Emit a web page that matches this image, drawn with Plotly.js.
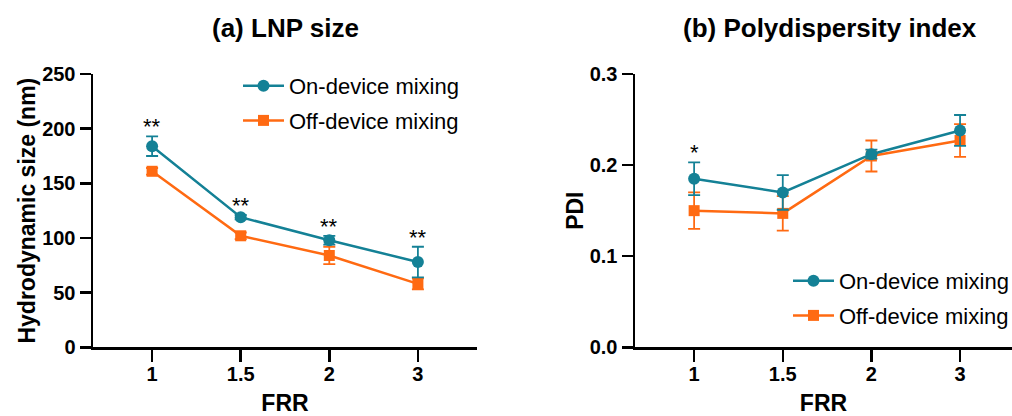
<!DOCTYPE html>
<html>
<head>
<meta charset="utf-8">
<script src="https://cdn.plot.ly/plotly-3.0.1.min.js"></script>
<style>html,body{margin:0;padding:0;background:#fff;}#chart{width:1012px;height:416px;}</style>
</head>
<body>
<div id="chart"></div>
<script>
// ---- data ----
const frr = ['1', '1.5', '2', '3'];
const sizeOn = [184, 119, 98, 78];
const sizeOnErr = [9, 2, 4, 14];
const sizeOff = [161, 102, 84, 58];
const sizeOffErr = [3, 3, 8, 5];
const pdiOn = [0.185, 0.170, 0.212, 0.238];
const pdiOnErr = [0.018, 0.019, 0.005, 0.017];
const pdiOff = [0.150, 0.147, 0.210, 0.227];
const pdiOffErr = [0.020, 0.019, 0.017, 0.018];
const sizeStars = ['**', '**', '**', '**'];
const pdiStars = ['*', '', '', ''];
const seriesNames = ['On-device mixing', 'Off-device mixing'];
const panelTitles = ['(a) LNP size', '(b) Polydispersity index'];
const yTitles = ['Hydrodynamic size (nm)', 'PDI'];
const xTitle = 'FRR';

// ---- styles ----
const TEAL = '#148196';
const ORANGE = '#ff6a12';
const FONT = '"Liberation Sans", Arial, sans-serif';

function trace(y, err, name, color, symbol, size, xa, ya, leg, rank) {
  return {
    type: 'scatter', mode: 'lines+markers', x: frr, y: y, name: name,
    xaxis: xa, yaxis: ya, legend: leg, legendrank: rank, legendgroup: name + leg,
    line: {color: color, width: 2.5},
    marker: {color: color, symbol: symbol, size: size},
    error_y: {type: 'data', array: err, visible: true, color: color, thickness: 1.8, width: 6},
    cliponaxis: false
  };
}

const data = [
  trace(sizeOff, sizeOffErr, seriesNames[1], ORANGE, 'square', 11, 'x', 'y', 'legend', 2),
  trace(sizeOn, sizeOnErr, seriesNames[0], TEAL, 'circle', 12, 'x', 'y', 'legend', 1),
  trace(pdiOff, pdiOffErr, seriesNames[1], ORANGE, 'square', 11, 'x2', 'y2', 'legend2', 2),
  trace(pdiOn, pdiOnErr, seriesNames[0], TEAL, 'circle', 12, 'x2', 'y2', 'legend2', 1)
];

const starFont = {family: FONT, size: 22, color: '#000'};
const annotations = [];
frr.forEach((c, i) => {
  // category index i is used as the x position on the category axis
  if (sizeStars[i]) annotations.push({
    xref: 'x', yref: 'y', x: i, y: Math.max(sizeOn[i] + sizeOnErr[i], sizeOff[i] + sizeOffErr[i]),
    text: sizeStars[i], showarrow: false, yanchor: 'bottom', yshift: -5, font: starFont
  });
  if (pdiStars[i]) annotations.push({
    xref: 'x2', yref: 'y2', x: i, y: Math.max(pdiOn[i] + pdiOnErr[i], pdiOff[i] + pdiOffErr[i]),
    text: pdiStars[i], showarrow: false, yanchor: 'bottom', yshift: -5, font: starFont
  });
});
const panelFont = {family: FONT, size: 26, color: '#000', weight: 700};
annotations.push({xref: 'paper', yref: 'paper', x: 285 / 1012, y: (416 - 28) / 416, text: panelTitles[0],
  showarrow: false, xanchor: 'center', yanchor: 'middle', font: panelFont});
annotations.push({xref: 'paper', yref: 'paper', x: 830 / 1012, y: (416 - 28) / 416, text: panelTitles[1],
  showarrow: false, xanchor: 'center', yanchor: 'middle', font: panelFont});

const tickFont = {family: FONT, size: 20, color: '#000', weight: 700};
const titleFont = {family: FONT, size: 23, color: '#000', weight: 700};

function xaxis(domain, range, anchor) {
  return {
    domain: domain, anchor: anchor, type: 'category', categoryorder: 'array', categoryarray: frr,
    range: range, showgrid: false, zeroline: false, showline: true, linecolor: '#000', linewidth: 2.5,
    ticks: 'outside', ticklen: 12, tickwidth: 2.5, tickcolor: '#000', tickfont: tickFont,
    ticklabelstandoff: -5,
    title: {text: xTitle, font: titleFont, standoff: 15}, fixedrange: true, automargin: true
  };
}
function yaxis(domain, range, dtick, fmt, title, anchor, standoff) {
  return {
    domain: domain, anchor: anchor, range: range, dtick: dtick, tick0: 0, tickformat: fmt,
    showgrid: false, zeroline: false, showline: true, linecolor: '#000', linewidth: 2.5,
    ticks: 'outside', ticklen: 11, tickwidth: 2.5, tickcolor: '#000', tickfont: tickFont,
    title: {text: title, font: titleFont, standoff: standoff}, fixedrange: true, automargin: true
  };
}

const yDom = [(416 - 347.3) / 416, (416 - 74) / 416];
const legendBase = {
  xref: 'paper', yref: 'paper', xanchor: 'left', yanchor: 'top', bgcolor: 'rgba(0,0,0,0)',
  font: {family: FONT, size: 22, color: '#000'}, itemwidth: 41, traceorder: 'grouped', tracegroupgap: 3
};

const layout = {
  width: 1012, height: 416,
  margin: {l: 0, r: 0, t: 0, b: 0, autoexpand: false},
  paper_bgcolor: '#fff', plot_bgcolor: '#fff',
  showlegend: true,
  xaxis: xaxis([93 / 1012, 477 / 1012], [-0.667, 3.667], 'y'),
  yaxis: yaxis(yDom, [0, 250], 50, 'd', yTitles[0], 'x', 0),
  xaxis2: xaxis([635 / 1012, 1], [-0.667, 3.586], 'y2'),
  yaxis2: yaxis(yDom, [0, 0.3], 0.1, '.1f', yTitles[1], 'x2', 0),
  legend: Object.assign({}, legendBase, {x: 238 / 1012, y: (416 - 65) / 416}),
  legend2: Object.assign({}, legendBase, {x: 788 / 1012, y: (416 - 260) / 416}),
  annotations: annotations,
  font: {family: FONT, color: '#000'}
};

Plotly.newPlot('chart', data, layout, {displayModeBar: false, staticPlot: true});
</script>
</body>
</html>
